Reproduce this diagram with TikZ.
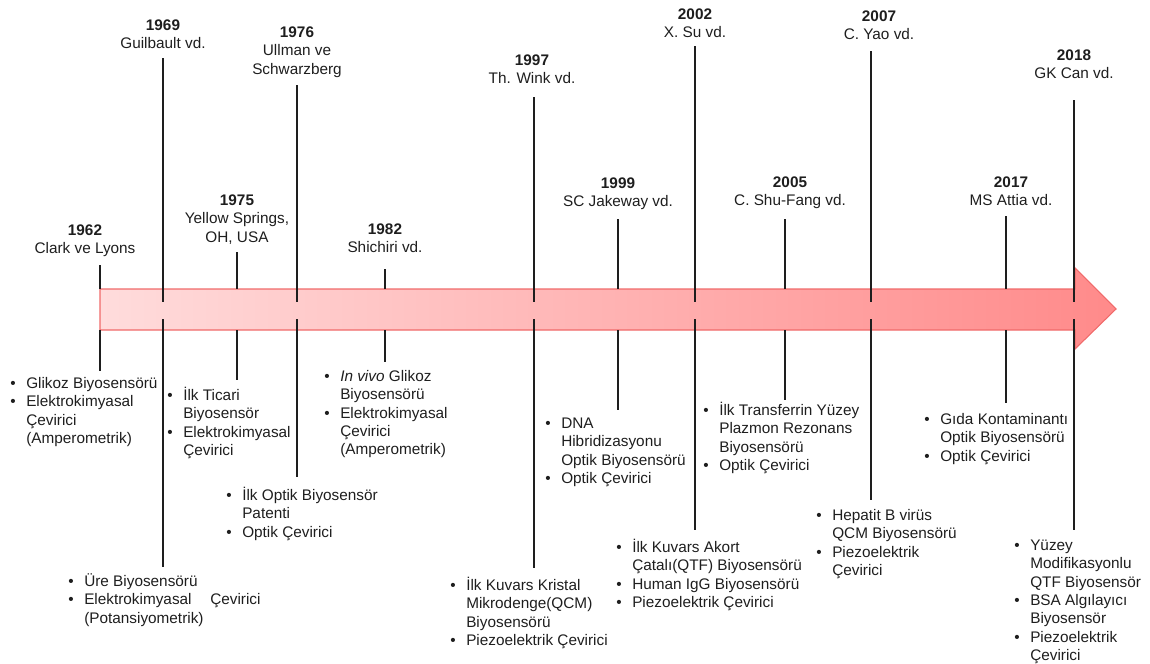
\documentclass[tikz,border=0pt]{standalone}
\usepackage{fontspec}
\setmainfont{Liberation Sans}
\usepackage{tikz}
\definecolor{arrowL}{HTML}{FFDCDC}
\definecolor{arrowR}{HTML}{FF8A8A}
\definecolor{arrowB}{HTML}{F06A6A}
\definecolor{inkgray}{HTML}{1E1E1E}
\tikzset{
  tick/.style={draw=inkgray, line width=1.15pt},
  yearlabel/.style={anchor=north, align=center, inner sep=0pt},
  itemlist/.style={anchor=north west, align=left, inner sep=0pt}
}
\newcommand{\drawyear}{\node[yearlabel]}
\newcommand{\drawitems}{\node[itemlist]}
\newcommand{\lstrut}{\rule{0pt}{11pt}}
\newcommand{\itm}{\makebox[12pt][l]{\textbullet}}
\newcommand{\ind}{\hspace*{12pt}}

\begin{document}
\begin{tikzpicture}[x=0.75pt, y=-0.75pt,
  every node/.style={font=\fontsize{11.5}{13.8}\selectfont, text=inkgray}]
\useasboundingbox (0,0) rectangle (1150,664);

%timeline arrow
\shadedraw[left color=arrowL, right color=arrowR, draw=arrowB, line width=0.8pt]
  (100,289) -- (1075,289) -- (1075,268) -- (1116,309) -- (1075,349) -- (1075,330) -- (100,330) -- cycle;
\coordinate (shafttop) at (0,289);
\coordinate (shaftbot) at (0,330);
\coordinate (inup) at (0,302);
\coordinate (indown) at (0,319);

%years and authors
\drawyear (y1962) at (85,220.3) {\lstrut\textbf{1962}\\Clark ve Lyons};
\drawyear (y1969) at (163,15.3) {\lstrut\textbf{1969}\\Guilbault vd.};
\drawyear (y1975) at (237,190.3) {\lstrut\textbf{1975}\\Yellow Springs,\\OH, USA};
\drawyear (y1976) at (297,22.3) {\lstrut\textbf{1976}\\Ullman ve\\Schwarzberg};
\drawyear (y1982) at (385,219.3) {\lstrut\textbf{1982}\\Shichiri vd.};
\drawyear (y1997) at (532,50.3) {\lstrut\textbf{1997}\\Th. Wink vd.};
\drawyear (y1999) at (618,173.3) {\lstrut\textbf{1999}\\SC Jakeway vd.};
\drawyear (y2002) at (695,4.3) {\lstrut\textbf{2002}\\X. Su vd.};
\drawyear (y2005) at (790,172.3) {\lstrut\textbf{2005}\\C. Shu-Fang vd.};
\drawyear (y2007) at (879,6.3) {\lstrut\textbf{2007}\\C. Yao vd.};
\drawyear (y2017) at (1011,172.3) {\lstrut\textbf{2017}\\MS Attia vd.};
\drawyear (y2018) at (1074,45.3) {\lstrut\textbf{2018}\\GK Can vd.};

%biosensor notes
\drawitems (b1962) at (10,373.3) {\lstrut\itm Glikoz Biyosensörü\\\itm Elektrokimyasal\\\ind Çevirici\\\ind (Amperometrik)};
\drawitems (b1969) at (68,571.3) {\lstrut\itm Üre Biyosensörü\\\itm Elektrokimyasal\hspace*{14pt}Çevirici\\\ind (Potansiyometrik)};
\drawitems (b1975) at (167,385.3) {\lstrut\itm İlk Ticari\\\ind Biyosensör\\\itm Elektrokimyasal\\\ind Çevirici};
\drawitems (b1976) at (226,485.3) {\lstrut\itm İlk Optik Biyosensör\\\ind Patenti\\\itm Optik Çevirici};
\drawitems (b1982) at (324,366.3) {\lstrut\itm \textit{In vivo} Glikoz\\\ind Biyosensörü\\\itm Elektrokimyasal\\\ind Çevirici\\\ind (Amperometrik)};
\drawitems (b1997) at (450,575.3) {\lstrut\itm İlk Kuvars Kristal\\\ind Mikrodenge(QCM)\\\ind Biyosensörü\\\itm Piezoelektrik Çevirici};
\drawitems (b1999) at (545,413.3) {\lstrut\itm DNA\\\ind Hibridizasyonu\\\ind Optik Biyosensörü\\\itm Optik Çevirici};
\drawitems (b2002) at (616,537.3) {\lstrut\itm İlk Kuvars Akort\\\ind Çatalı(QTF) Biyosensörü\\\itm Human IgG Biyosensörü\\\itm Piezoelektrik Çevirici};
\drawitems (b2005) at (703,400.3) {\lstrut\itm İlk Transferrin Yüzey\\\ind Plazmon Rezonans\\\ind Biyosensörü\\\itm Optik Çevirici};
\drawitems (b2007) at (816,505.3) {\lstrut\itm Hepatit B virüs\\\ind QCM Biyosensörü\\\itm Piezoelektrik\\\ind Çevirici};
\drawitems (b2017) at (924,409.3) {\lstrut\itm Gıda Kontaminantı\\\ind Optik Biyosensörü\\\itm Optik Çevirici};
\drawitems (b2018) at (1014,535.3) {\lstrut\itm Yüzey\\\ind Modifikasyonlu\\\ind QTF Biyosensör\\\itm BSA Algılayıcı\\\ind Biyosensör\\\itm Piezoelektrik\\\ind Çevirici};

%line ends
\coordinate (t1962) at (100,265);
\coordinate (e1962) at (100,371);
\coordinate (t1969) at (163,58);
\coordinate (e1969) at (163,567);
\coordinate (t1975) at (237,252);
\coordinate (e1975) at (237,380);
\coordinate (t1976) at (297,85);
\coordinate (e1976) at (297,477);
\coordinate (t1982) at (385,269);
\coordinate (e1982) at (385,362);
\coordinate (t1997) at (534,97);
\coordinate (e1997) at (534,568);
\coordinate (t1999) at (618,219);
\coordinate (e1999) at (618,410);
\coordinate (t2002) at (695,46);
\coordinate (e2002) at (695,530);
\coordinate (t2005) at (785,219);
\coordinate (e2005) at (785,400);
\coordinate (t2007) at (871,51);
\coordinate (e2007) at (871,500);
\coordinate (t2017) at (1006,216);
\coordinate (e2017) at (1006,403);
\coordinate (t2018) at (1074,100);
\coordinate (e2018) at (1074,530);

%short ticks stop at the arrow
\draw[tick] (t1962) -- (t1962 |- shafttop);
\draw[tick] (e1962 |- shaftbot) -- (e1962);
\draw[tick] (t1975) -- (t1975 |- shafttop);
\draw[tick] (e1975 |- shaftbot) -- (e1975);
\draw[tick] (t1982) -- (t1982 |- shafttop);
\draw[tick] (e1982 |- shaftbot) -- (e1982);
\draw[tick] (t1999) -- (t1999 |- shafttop);
\draw[tick] (e1999 |- shaftbot) -- (e1999);
\draw[tick] (t2005) -- (t2005 |- shafttop);
\draw[tick] (e2005 |- shaftbot) -- (e2005);
\draw[tick] (t2017) -- (t2017 |- shafttop);
\draw[tick] (e2017 |- shaftbot) -- (e2017);

%long ticks run into the arrow
\draw[tick] (t1969) -- (t1969 |- inup);
\draw[tick] (e1969 |- indown) -- (e1969);
\draw[tick] (t1976) -- (t1976 |- inup);
\draw[tick] (e1976 |- indown) -- (e1976);
\draw[tick] (t1997) -- (t1997 |- inup);
\draw[tick] (e1997 |- indown) -- (e1997);
\draw[tick] (t2002) -- (t2002 |- inup);
\draw[tick] (e2002 |- indown) -- (e2002);
\draw[tick] (t2007) -- (t2007 |- inup);
\draw[tick] (e2007 |- indown) -- (e2007);
\draw[tick] (t2018) -- (t2018 |- inup);
\draw[tick] (e2018 |- indown) -- (e2018);
\end{tikzpicture}
\end{document}
